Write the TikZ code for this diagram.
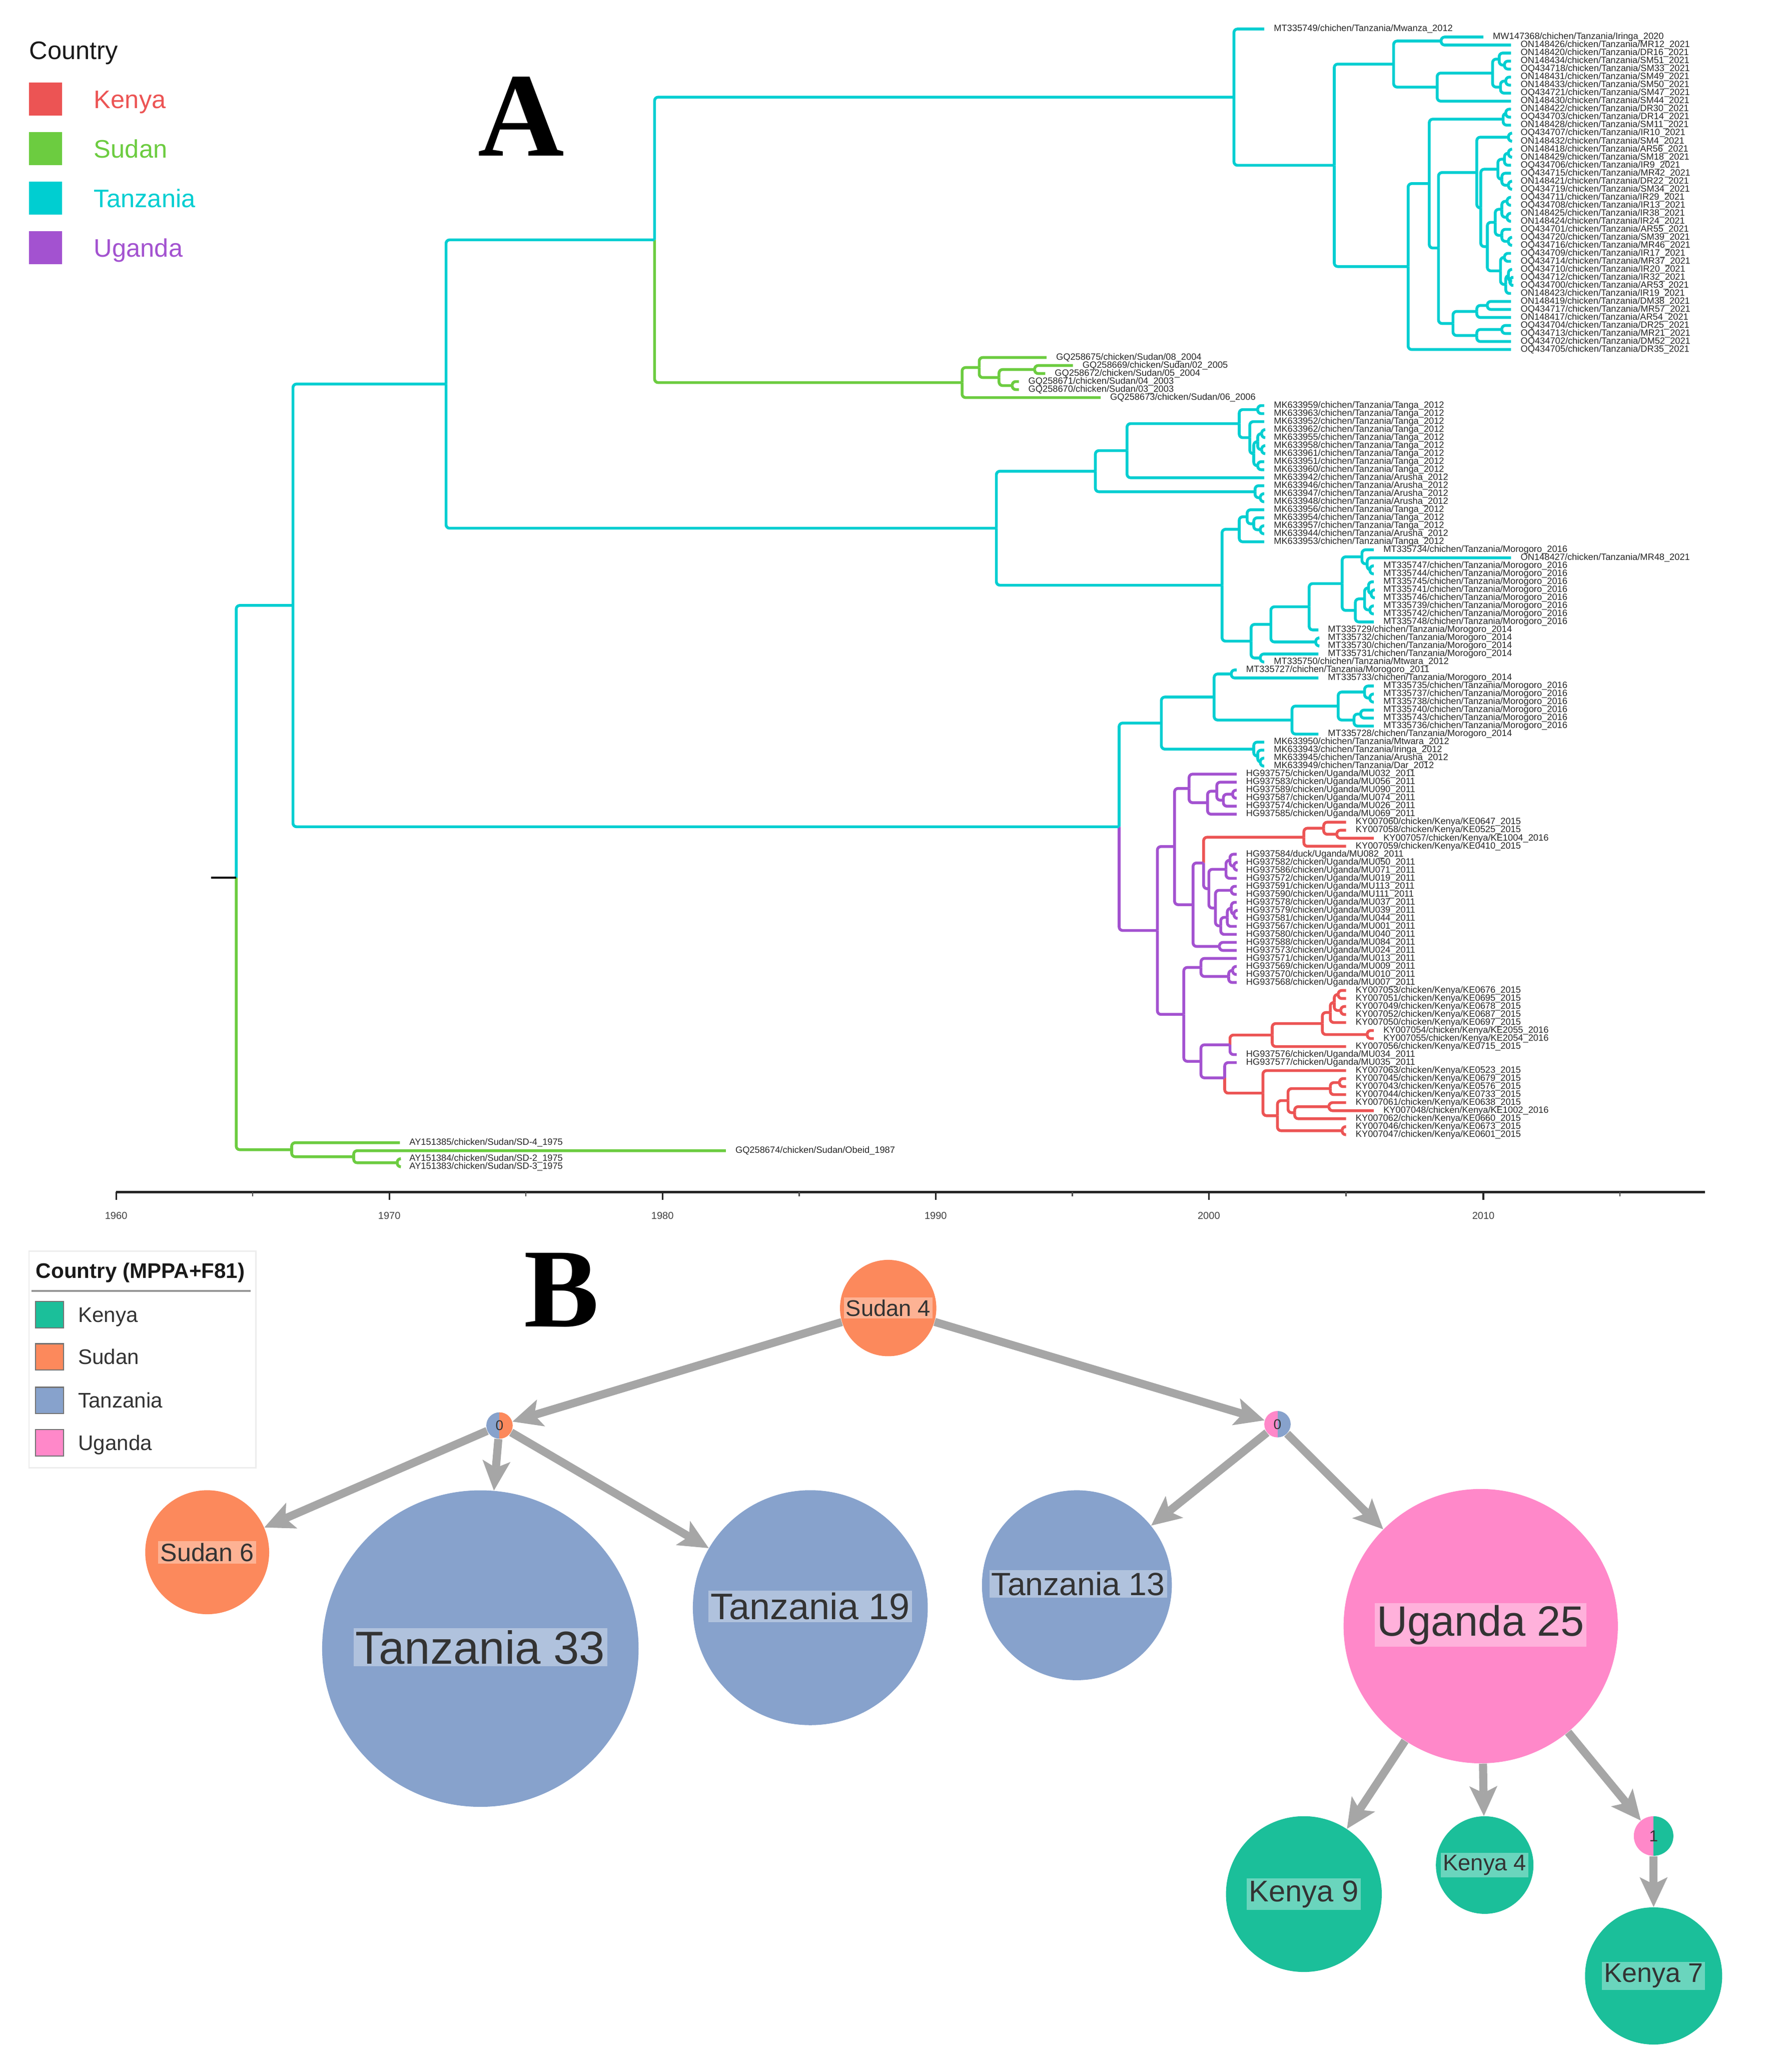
\documentclass[tikz,border=0pt]{standalone}
\usepackage{fontspec}
\setmainfont{Liberation Sans}
\newfontfamily\serifbold{Liberation Serif}
\usetikzlibrary{calc,arrows.meta}

\definecolor{tzc}{RGB}{0,206,209}
\definecolor{sdc}{RGB}{108,204,64}
\definecolor{kec}{RGB}{236,84,84}
\definecolor{ugc}{RGB}{163,82,208}
\definecolor{keB}{RGB}{27,191,154}
\definecolor{sdB}{RGB}{252,137,92}
\definecolor{tzB}{RGB}{135,162,204}
\definecolor{ugB}{RGB}{255,136,201}
\definecolor{edgeg}{RGB}{166,166,166}

\tikzset{
  treeline/.style={line width=1.6pt, rounded corners=2pt},
  tz/.style={treeline, draw=tzc},
  sd/.style={treeline, draw=sdc},
  ke/.style={treeline, draw=kec},
  ug/.style={treeline, draw=ugc},
  lab/.style={anchor=west, inner sep=0pt, font=\fontsize{5.2}{6}\selectfont, text=black!85},
  ticklab/.style={inner sep=0pt, font=\fontsize{5.7}{6}\selectfont, text=black!75},
  lsqA/.style={minimum size=18.75pt, inner sep=0pt, draw=none},
  legA/.style={anchor=base west, inner sep=0pt, font=\fontsize{14.4}{16}\selectfont},
  lsqB/.style={draw=black!55, line width=0.6pt, minimum width=15.75pt, minimum height=15pt, inner sep=0pt},
  legB/.style={anchor=base west, inner sep=0pt, font=\fontsize{12}{14}\selectfont, text=black!80},
  bnode/.style={circle, inner sep=0pt, draw=none},
  blab/.style={fill=white, fill opacity=0.35, text opacity=1, text=black!80, inner sep=1.2pt},
  bedge/.style={draw=edgeg, line width=4.6pt, -{Stealth[length=17pt, width=16pt, inset=4pt, line width=0pt]}},
  bigletter/.style={anchor=base west, inner sep=0pt, font=\serifbold\bfseries\fontsize{68}{70}\selectfont},
}

\newcommand\tipX[3]{\coordinate (t#1) at (#2,{15.93+6.07*#1});\node[lab] (l#1) at ({#2+7},{15.93+6.07*#1}) {#3};}
\newcommand\ndX[4]{\path let \p1=(#3), \p2=(#4), \p3=(#2,0) in coordinate (#1) at (\x3,{(\y1+\y2)/2});}
\newcommand\brX[3]{\draw[#1] (#2) |- (#3);}
\newcommand\nbX[5]{\ndX{#2}{#3}{#4}{#5}\brX{#1}{#2}{#4}\brX{#1}{#2}{#5}}
\newcommand\nbbX[6]{\ndX{#3}{#4}{#5}{#6}\brX{#1}{#3}{#5}\brX{#2}{#3}{#6}}
\newcommand\tzN[3]{\tipX{#1}{1145}{#2/chicken/Tanzania/#3\_2021}}
\newcommand\tgA[3]{\tipX{#1}{958}{#2/chichen/Tanzania/#3\_2012}}
\newcommand\moR[4]{\tipX{#1}{#4}{#2/chichen/Tanzania/Morogoro\_#3}}
\newcommand\ugA[3]{\tipX{#1}{937}{#2/chicken/Uganda/#3\_2011}}
\newcommand\keA[4]{\tipX{#1}{#4}{#2/chicken/Kenya/#3}}

\begin{document}
\begin{tikzpicture}[x=0.02638cm, y=-0.02638cm]
\fill[white] (0,0) rectangle (1351,1569.8);
\useasboundingbox (0,0) rectangle (1351,1569.8);

% ================= Panel A legend =================
\node[legA, text=black!90] (ctyA) at (22,45) {Country};
\node[lsqA, fill=kec] (sqAk) at (34.5,75) {};
\node[lsqA, fill=sdc] (sqAs) at (34.5,112.5) {};
\node[lsqA, fill=tzc] (sqAt) at (34.5,150) {};
\node[lsqA, fill=ugc] (sqAu) at (34.5,187.5) {};
\node[legA, text=kec] (lgAk) at (71,82) {Kenya};
\node[legA, text=sdc] (lgAs) at (71,119.5) {Sudan};
\node[legA, text=tzc] (lgAt) at (71,157) {Tanzania};
\node[legA, text=ugc] (lgAu) at (71,194.5) {Uganda};
\node[bigletter] (letA) at (362,118) {A};

% ================= Tips =================
\tipX{1}{958}{MT335749/chichen/Tanzania/Mwanza\_2012}
\tipX{2}{1124}{MW147368/chichen/Tanzania/Iringa\_2020}
\tzN{3}{ON148426}{MR12}
\tzN{4}{ON148420}{DR16}
\tzN{5}{ON148434}{SM51}
\tzN{6}{OQ434718}{SM33}
\tzN{7}{ON148431}{SM49}
\tzN{8}{ON148433}{SM50}
\tzN{9}{OQ434721}{SM47}
\tzN{10}{ON148430}{SM44}
\tzN{11}{ON148422}{DR30}
\tzN{12}{OQ434703}{DR14}
\tzN{13}{ON148428}{SM11}
\tzN{14}{OQ434707}{IR10}
\tzN{15}{ON148432}{SM4}
\tzN{16}{ON148418}{AR56}
\tzN{17}{ON148429}{SM18}
\tzN{18}{OQ434706}{IR9}
\tzN{19}{OQ434715}{MR42}
\tzN{20}{ON148421}{DR22}
\tzN{21}{OQ434719}{SM34}
\tzN{22}{OQ434711}{IR29}
\tzN{23}{OQ434708}{IR13}
\tzN{24}{ON148425}{IR38}
\tzN{25}{ON148424}{IR24}
\tzN{26}{OQ434701}{AR55}
\tzN{27}{OQ434720}{SM39}
\tzN{28}{OQ434716}{MR46}
\tzN{29}{OQ434709}{IR17}
\tzN{30}{OQ434714}{MR37}
\tzN{31}{OQ434710}{IR20}
\tzN{32}{OQ434712}{IR32}
\tzN{33}{OQ434700}{AR53}
\tzN{34}{ON148423}{IR19}
\tzN{35}{ON148419}{DM38}
\tzN{36}{OQ434717}{MR57}
\tzN{37}{ON148417}{AR54}
\tzN{38}{OQ434704}{DR25}
\tzN{39}{OQ434713}{MR21}
\tzN{40}{OQ434702}{DM52}
\tzN{41}{OQ434705}{DR35}
\tipX{42}{793}{GQ258675/chicken/Sudan/08\_2004}
\tipX{43}{813}{GQ258669/chicken/Sudan/02\_2005}
\tipX{44}{792}{GQ258672/chicken/Sudan/05\_2004}
\tipX{45}{772}{GQ258671/chicken/Sudan/04\_2003}
\tipX{46}{772}{GQ258670/chicken/Sudan/03\_2003}
\tipX{47}{834}{GQ258673/chicken/Sudan/06\_2006}
\tgA{48}{MK633959}{Tanga}
\tgA{49}{MK633963}{Tanga}
\tgA{50}{MK633952}{Tanga}
\tgA{51}{MK633962}{Tanga}
\tgA{52}{MK633955}{Tanga}
\tgA{53}{MK633958}{Tanga}
\tgA{54}{MK633961}{Tanga}
\tgA{55}{MK633951}{Tanga}
\tgA{56}{MK633960}{Tanga}
\tgA{57}{MK633942}{Arusha}
\tgA{58}{MK633946}{Arusha}
\tgA{59}{MK633947}{Arusha}
\tgA{60}{MK633948}{Arusha}
\tgA{61}{MK633956}{Tanga}
\tgA{62}{MK633954}{Tanga}
\tgA{63}{MK633957}{Tanga}
\tgA{64}{MK633944}{Arusha}
\tgA{65}{MK633953}{Tanga}
\moR{66}{MT335734}{2016}{1041}
\tipX{67}{1145}{ON148427/chicken/Tanzania/MR48\_2021}
\moR{68}{MT335747}{2016}{1041}
\moR{69}{MT335744}{2016}{1041}
\moR{70}{MT335745}{2016}{1041}
\moR{71}{MT335741}{2016}{1041}
\moR{72}{MT335746}{2016}{1041}
\moR{73}{MT335739}{2016}{1041}
\moR{74}{MT335742}{2016}{1041}
\moR{75}{MT335748}{2016}{1041}
\moR{76}{MT335729}{2014}{999}
\moR{77}{MT335732}{2014}{999}
\moR{78}{MT335730}{2014}{999}
\moR{79}{MT335731}{2014}{999}
\tipX{80}{958}{MT335750/chichen/Tanzania/Mtwara\_2012}
\moR{81}{MT335727}{2011}{937}
\moR{82}{MT335733}{2014}{999}
\moR{83}{MT335735}{2016}{1041}
\moR{84}{MT335737}{2016}{1041}
\moR{85}{MT335738}{2016}{1041}
\moR{86}{MT335740}{2016}{1041}
\moR{87}{MT335743}{2016}{1041}
\moR{88}{MT335736}{2016}{1041}
\moR{89}{MT335728}{2014}{999}
\tgA{90}{MK633950}{Mtwara}
\tgA{91}{MK633943}{Iringa}
\tgA{92}{MK633945}{Arusha}
\tgA{93}{MK633949}{Dar}
\ugA{94}{HG937575}{MU032}
\ugA{95}{HG937583}{MU056}
\ugA{96}{HG937589}{MU090}
\ugA{97}{HG937587}{MU074}
\ugA{98}{HG937574}{MU026}
\ugA{99}{HG937585}{MU069}
\keA{100}{KY007060}{KE0647\_2015}{1020}
\keA{101}{KY007058}{KE0525\_2015}{1020}
\keA{102}{KY007057}{KE1004\_2016}{1041}
\keA{103}{KY007059}{KE0410\_2015}{1020}
\tipX{104}{937}{HG937584/duck/Uganda/MU082\_2011}
\ugA{105}{HG937582}{MU050}
\ugA{106}{HG937586}{MU071}
\ugA{107}{HG937572}{MU019}
\ugA{108}{HG937591}{MU113}
\ugA{109}{HG937590}{MU111}
\ugA{110}{HG937578}{MU037}
\ugA{111}{HG937579}{MU039}
\ugA{112}{HG937581}{MU044}
\ugA{113}{HG937567}{MU001}
\ugA{114}{HG937580}{MU040}
\ugA{115}{HG937588}{MU084}
\ugA{116}{HG937573}{MU024}
\ugA{117}{HG937571}{MU013}
\ugA{118}{HG937569}{MU009}
\ugA{119}{HG937570}{MU010}
\ugA{120}{HG937568}{MU007}
\keA{121}{KY007053}{KE0676\_2015}{1020}
\keA{122}{KY007051}{KE0695\_2015}{1020}
\keA{123}{KY007049}{KE0678\_2015}{1020}
\keA{124}{KY007052}{KE0687\_2015}{1020}
\keA{125}{KY007050}{KE0697\_2015}{1020}
\keA{126}{KY007054}{KE2055\_2016}{1041}
\keA{127}{KY007055}{KE2054\_2016}{1041}
\keA{128}{KY007056}{KE0715\_2015}{1020}
\ugA{129}{HG937576}{MU034}
\ugA{130}{HG937577}{MU035}
\keA{131}{KY007063}{KE0523\_2015}{1020}
\keA{132}{KY007045}{KE0679\_2015}{1020}
\keA{133}{KY007043}{KE0576\_2015}{1020}
\keA{134}{KY007044}{KE0733\_2015}{1020}
\keA{135}{KY007061}{KE0638\_2015}{1020}
\keA{136}{KY007048}{KE1002\_2016}{1041}
\keA{137}{KY007062}{KE0660\_2015}{1020}
\keA{138}{KY007046}{KE0673\_2015}{1020}
\keA{139}{KY007047}{KE0601\_2015}{1020}
\tipX{140}{303}{AY151385/chicken/Sudan/SD-4\_1975}
\tipX{141}{550}{GQ258674/chicken/Sudan/Obeid\_1987}
\tipX{142}{303}{AY151384/chicken/Sudan/SD-2\_1975}
\tipX{143}{303}{AY151383/chicken/Sudan/SD-3\_1975}

% ================= Internal nodes and branches =================
% top 2021 clade
\nbX{tz}{F1}{1092}{t2}{t3}
\nbX{tz}{F4a}{1140}{t5}{t6}
\nbX{tz}{F4}{1136}{t4}{F4a}
\nbX{tz}{F5a}{1141}{t7}{t8}
\nbX{tz}{F5}{1137}{F5a}{t9}
\nbX{tz}{F3}{1131}{F4}{F5}
\nbX{tz}{F2}{1089}{F3}{t10}
\nbX{tz}{F}{1056}{F1}{F2}
\nbX{tz}{G2a}{1141}{t11}{t12}
\nbX{tz}{G2}{1139}{G2a}{t13}
\nbX{tz}{H1}{1143}{t14}{t15}
\nbX{tz}{H3c}{1143}{t16}{t17}
\nbX{tz}{H3a}{1140}{H3c}{t18}
\nbX{tz}{H3d}{1143}{t20}{t21}
\nbX{tz}{H3b}{1138}{t19}{H3d}
\nbX{tz}{H3}{1135}{H3a}{H3b}
\nbX{tz}{H5c}{1142}{t22}{t23}
\nbX{tz}{H5d}{1142}{t24}{t25}
\nbX{tz}{H5a}{1138}{H5c}{H5d}
\nbX{tz}{H5e}{1143}{t27}{t28}
\nbX{tz}{H5b}{1138}{t26}{H5e}
\nbX{tz}{H5}{1133}{H5a}{H5b}
\nbX{tz}{H6a}{1140}{t29}{t30}
\nbX{tz}{H6d}{1144}{t32}{t33}
\nbX{tz}{H6c}{1143}{t31}{H6d}
\nbX{tz}{H6b}{1141}{H6c}{t34}
\nbX{tz}{H6}{1137}{H6a}{H6b}
\nbX{tz}{H4}{1127}{H5}{H6}
\nbX{tz}{H2}{1122}{H3}{H4}
\nbX{tz}{G4}{1119}{H1}{H2}
\nbX{tz}{G6a}{1127}{t35}{t36}
\nbX{tz}{G6}{1119}{G6a}{t37}
\nbX{tz}{G7a}{1138}{t38}{t39}
\nbX{tz}{G7}{1119}{G7a}{t40}
\nbX{tz}{G5}{1101}{G6}{G7}
\nbX{tz}{G3}{1090}{G4}{G5}
\nbX{tz}{G1}{1083}{G2}{G3}
\nbX{tz}{G}{1067}{G1}{t41}
\nbX{tz}{E}{1011}{F}{G}
\nbX{tz}{D}{935}{t1}{E}
% Sudan 2003-2006
\nbX{sd}{SD3}{784}{t43}{t44}
\nbX{sd}{SD4}{767}{t45}{t46}
\nbX{sd}{SD2}{757}{SD3}{SD4}
\nbX{sd}{SD1}{742}{t42}{SD2}
\nbX{sd}{SD}{729}{SD1}{t47}
\nbbX{tz}{sd}{C}{496}{D}{SD}
% Tanga / Arusha
\nbX{tz}{T2c}{953}{t48}{t49}
\nbX{tz}{T2h}{956}{t51}{t52}
\nbX{tz}{T2i}{956}{t53}{t54}
\nbX{tz}{T2f}{953}{T2h}{T2i}
\nbX{tz}{T2g}{953}{t55}{t56}
\nbX{tz}{T2e}{950}{T2f}{T2g}
\nbX{tz}{T2d}{947}{t50}{T2e}
\nbX{tz}{T2b}{939}{T2c}{T2d}
\nbX{tz}{T2a}{854}{T2b}{t57}
\nbX{tz}{T2k}{955}{t59}{t60}
\nbX{tz}{T2j}{951}{t58}{T2k}
\nbX{tz}{T2}{830}{T2a}{T2j}
\nbX{tz}{T3d}{955}{t63}{t64}
\nbX{tz}{T3c}{950}{t62}{T3d}
\nbX{tz}{T3b}{945}{t61}{T3c}
\nbX{tz}{T3a}{939}{T3b}{t65}
% Morogoro
\nbX{tz}{T9a}{1038}{t68}{t69}
\nbX{tz}{T9}{1036}{t67}{T9a}
\nbX{tz}{T8}{1032}{t66}{T9}
\nbX{tz}{T11c}{1039}{t71}{t72}
\nbX{tz}{T11a}{1037}{t70}{T11c}
\nbX{tz}{T11b}{1038}{t73}{t74}
\nbX{tz}{T11}{1034}{T11a}{T11b}
\nbX{tz}{T10}{1027}{T11}{t75}
\nbX{tz}{T7}{1017}{T8}{T10}
\nbX{tz}{T6}{992}{T7}{t76}
\nbX{tz}{T12}{997}{t77}{t78}
\nbX{tz}{T5}{963}{T6}{T12}
\nbX{tz}{T13}{955}{t79}{t80}
\nbX{tz}{T4}{948}{T5}{T13}
\nbX{tz}{T3}{926}{T3a}{T4}
\nbX{tz}{T1}{755}{T2}{T3}
\nbX{tz}{B}{338}{C}{T1}
\nbX{tz}{T18a}{1038}{t84}{t85}
\nbX{tz}{T18}{1034}{t83}{T18a}
\nbX{tz}{T19a}{1031}{t86}{t87}
\nbX{tz}{T19}{1026}{T19a}{t88}
\nbX{tz}{T17}{1014}{T18}{T19}
\nbX{tz}{T16}{979}{T17}{t89}
\nbX{tz}{T14}{933}{t81}{t82}
\nbX{tz}{T15}{920}{T14}{T16}
\nbX{tz}{T20b}{955}{t92}{t93}
\nbX{tz}{T20a}{953}{t91}{T20b}
\nbX{tz}{T20}{950}{t90}{T20a}
\nbX{tz}{N}{880}{T15}{T20}
% Uganda / Kenya
\nbX{ug}{U7}{934}{t96}{t97}
\nbX{ug}{U6}{927}{U7}{t98}
\nbX{ug}{U5}{922}{t95}{U6}
\nbX{ug}{U4}{915}{U5}{t99}
\nbX{ug}{U3}{901}{t94}{U4}
\nbX{ke}{K3}{1013}{t101}{t102}
\nbX{ke}{K2}{1003}{t100}{K3}
\nbX{ke}{K1}{988}{K2}{t103}
\nbX{ug}{U11b}{935}{t105}{t106}
\nbX{ug}{U11a}{932}{t104}{U11b}
\nbX{ug}{U11}{929}{U11a}{t107}
\nbX{ug}{U13}{933}{t108}{t109}
\nbX{ug}{U16b}{935}{t111}{t112}
\nbX{ug}{U16a}{933}{t110}{U16b}
\nbX{ug}{U16}{930}{U16a}{t113}
\nbX{ug}{U14}{925}{U16}{t114}
\nbX{ug}{U12}{921}{U13}{U14}
\nbX{ug}{U10}{916}{U11}{U12}
\nbbX{ke}{ug}{U9}{912}{K1}{U10}
\nbX{ug}{U15}{924}{t115}{t116}
\nbX{ug}{U8}{904}{U9}{U15}
\nbX{ug}{U2}{890}{U3}{U8}
\nbX{ug}{U20a}{934}{t118}{t119}
\nbX{ug}{U20}{931}{U20a}{t120}
\nbX{ug}{U18}{910}{t117}{U20}
\nbX{ke}{K9}{1014}{t121}{t122}
\nbX{ke}{K10}{1016}{t123}{t124}
\nbX{ke}{K8}{1011}{K9}{K10}
\nbX{ke}{K6}{1008}{K8}{t125}
\nbX{ke}{K7}{1036}{t126}{t127}
\nbX{ke}{K5}{1002}{K6}{K7}
\nbX{ke}{K4}{964}{K5}{t128}
\nbbX{ke}{ug}{U22}{932}{K4}{t129}
\nbX{ke}{K15a}{1015}{t132}{t133}
\nbX{ke}{K15}{1008}{K15a}{t134}
\nbX{ke}{K17}{1007}{t135}{t136}
\nbX{ke}{K16}{981}{K17}{t137}
\nbX{ke}{K13}{976}{K15}{K16}
\nbX{ke}{K14}{1017}{t138}{t139}
\nbX{ke}{K12}{968}{K13}{K14}
\nbX{ke}{K11}{957}{t131}{K12}
\nbbX{ug}{ke}{U23}{928}{t130}{K11}
\nbX{ug}{U21}{910}{U22}{U23}
\nbX{ug}{U17}{897}{U18}{U21}
\nbX{ug}{U1}{877}{U2}{U17}
\nbbX{tz}{ug}{U0}{848}{N}{U1}
\nbX{tz}{A}{222}{B}{U0}
% basal Sudan
\nbX{sd}{S2}{301}{t142}{t143}
\nbX{sd}{S1}{268}{t141}{S2}
\nbX{sd}{S}{221}{t140}{S1}
\nbbX{tz}{sd}{R}{179}{A}{S}
\coordinate (rootL) at ($(R)+(-19,0)$);
\draw[line width=1.3pt, black] (rootL) -- (R);

% ================= Time axis =================
\coordinate (ax0) at (88,903);
\coordinate (ax1) at (1292,903);
\draw[line width=1.4pt, black!85] (ax0) -- (ax1);
\foreach \yr/\xx in {1960/88,1970/295,1980/502,1990/709,2000/916,2010/1124}{
  \draw[line width=0.9pt, black!85] (\xx,903) -- (\xx,909);
  \node[ticklab] (yl\yr) at (\xx,921) {\yr};
}
\foreach \xx in {191.5,398.5,605.5,812.5,1020,1227.5}{
  \draw[line width=0.7pt, black!70] (\xx,903) -- (\xx,906.5);
}

% ================= Panel B =================
\draw[black!7, line width=0.8pt] (22,948) rectangle (194,1112);
\node[anchor=base west, inner sep=0pt, font=\bfseries\fontsize{12}{14}\selectfont, text=black!90] (ttlB) at (27,968.5) {Country (MPPA+F81)};
\coordinate (ulB0) at (24,978);
\coordinate (ulB1) at (190,978);
\draw[black!40, line width=1.3pt] (ulB0) -- (ulB1);
\node[lsqB, fill=keB] (sqBk) at (37.5,996) {};
\node[lsqB, fill=sdB] (sqBs) at (37.5,1028) {};
\node[lsqB, fill=tzB] (sqBt) at (37.5,1061) {};
\node[lsqB, fill=ugB] (sqBu) at (37.5,1093) {};
\node[legB] (lgBk) at (59,1001.7) {Kenya};
\node[legB] (lgBs) at (59,1033.7) {Sudan};
\node[legB] (lgBt) at (59,1066.7) {Tanzania};
\node[legB] (lgBu) at (59,1098.7) {Uganda};
\node[bigletter, font=\serifbold\bfseries\fontsize{64}{66}\selectfont] (letB) at (397,1005) {B};

% circles
\node[bnode, fill=sdB, minimum size=54.8pt] (nS4) at (673,991) {};
\node[bnode, fill=sdB, minimum size=70.5pt] (nS6) at (157,1176) {};
\node[bnode, fill=tzB, minimum size=180pt] (nT33) at (364,1249) {};
\node[bnode, fill=tzB, minimum size=133.6pt] (nT19) at (614,1218) {};
\node[bnode, fill=tzB, minimum size=108pt] (nT13) at (816,1201) {};
\node[bnode, fill=ugB, minimum size=156pt] (nU25) at (1122,1232) {};
\node[bnode, fill=keB, minimum size=88.6pt] (nK9) at (988,1435) {};
\node[bnode, fill=keB, minimum size=55.5pt] (nK4) at (1125,1413) {};
\node[bnode, fill=keB, minimum size=78pt] (nK7) at (1253,1497) {};
% pies
\begin{scope}
  \clip (378.5,1080) circle[radius=7.5pt];
  \fill[tzB] (360,1060) rectangle (378.5,1100);
  \fill[sdB] (378.5,1060) rectangle (397,1100);
\end{scope}
\begin{scope}
  \clip (968,1079) circle[radius=7.5pt];
  \fill[ugB] (950,1060) rectangle (968,1100);
  \fill[tzB] (968,1060) rectangle (986,1100);
\end{scope}
\begin{scope}
  \clip (1253,1391) circle[radius=11.25pt];
  \fill[ugB] (1230,1370) rectangle (1253,1412);
  \fill[keB] (1253,1370) rectangle (1276,1412);
\end{scope}
\node[bnode, minimum size=15pt, font=\fontsize{8}{9}\selectfont, text=black!80] (nP1) at (378.5,1080) {0};
\node[bnode, minimum size=15pt, font=\fontsize{8}{9}\selectfont, text=black!80] (nP2) at (968,1079) {0};
\node[bnode, minimum size=22.5pt, font=\fontsize{9}{10}\selectfont, text=black!80] (nP3) at (1253,1391) {1};

% labels
\node[blab, font=\fontsize{12.9}{14}\selectfont] (lS4) at (673,991) {Sudan 4};
\node[blab, font=\fontsize{14.3}{16}\selectfont] (lS6) at (157,1176) {Sudan 6};
\node[blab, font=\fontsize{26.3}{28}\selectfont] (lT33) at (364,1248) {Tanzania 33};
\node[blab, font=\fontsize{21}{23}\selectfont] (lT19) at (614,1217) {Tanzania 19};
\node[blab, font=\fontsize{18.3}{20}\selectfont] (lT13) at (817,1200) {Tanzania 13};
\node[blab, font=\fontsize{24.1}{26}\selectfont] (lU25) at (1122,1231) {Uganda 25};
\node[blab, font=\fontsize{17}{19}\selectfont] (lK9) at (988,1435) {Kenya 9};
\node[blab, font=\fontsize{12.9}{14}\selectfont] (lK4) at (1125,1413) {Kenya 4};
\node[blab, font=\fontsize{15.3}{17}\selectfont] (lK7) at (1253,1497) {Kenya 7};

% edges
\draw[bedge] (nS4) -- (nP1);
\draw[bedge] (nS4) -- (nP2);
\draw[bedge] (nP1) -- (nS6);
\draw[bedge] (nP1) -- (nT33);
\draw[bedge] (nP1) -- (nT19);
\draw[bedge] (nP2) -- (nT13);
\draw[bedge] (nP2) -- (nU25);
\draw[bedge] (nU25) -- (nK9);
\draw[bedge] (nU25) -- (nK4);
\draw[bedge] (nU25) -- (nP3);
\draw[bedge] (nP3) -- (nK7);
\end{tikzpicture}
\end{document}
